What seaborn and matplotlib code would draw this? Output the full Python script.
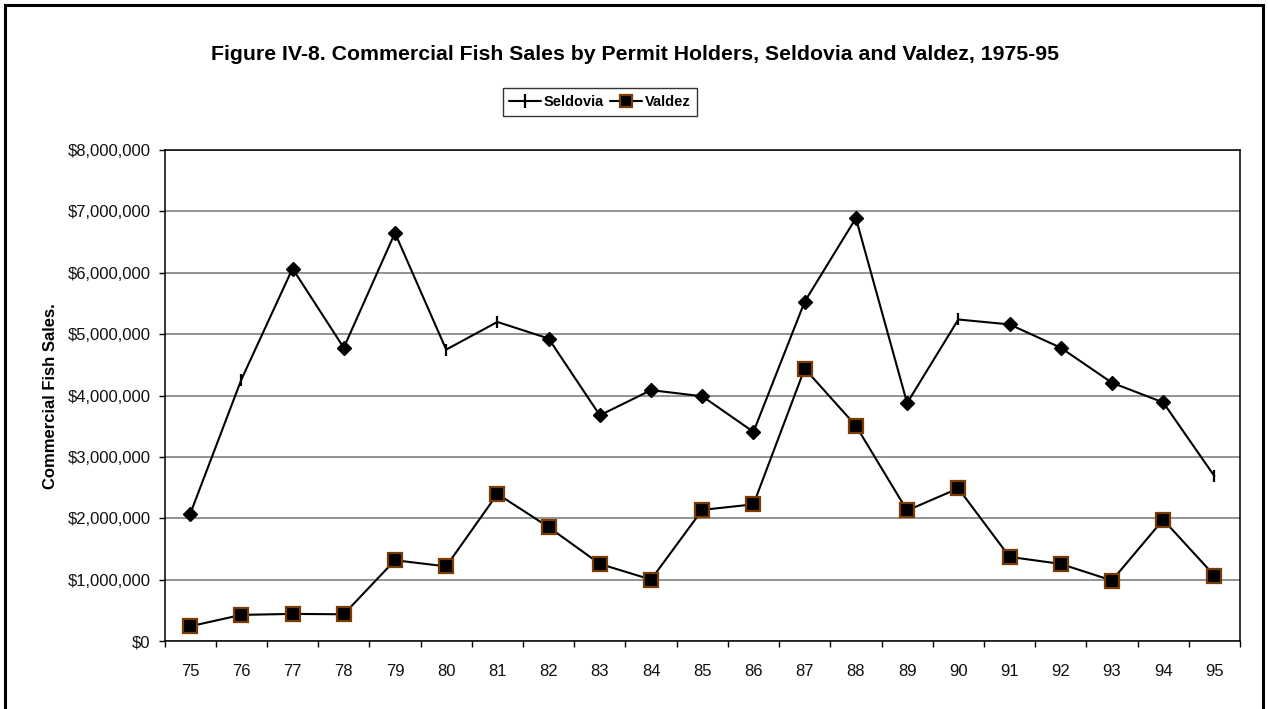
import numpy as np
import pandas as pd
import seaborn as sns
import matplotlib.pyplot as plt
from matplotlib.lines import Line2D
from matplotlib.patches import Rectangle
from matplotlib.ticker import FuncFormatter, MultipleLocator

years = ['75', '76', '77', '78', '79', '80', '81', '82', '83', '84', '85',
         '86', '87', '88', '89', '90', '91', '92', '93', '94', '95']
seldovia = [2.07, 4.26, 6.07, 4.78, 6.65, 4.75, 5.20, 4.93, 3.68, 4.09, 3.99,
            3.41, 5.53, 6.89, 3.88, 5.24, 5.16, 4.78, 4.21, 3.89, 2.69]
valdez = [0.245, 0.43, 0.446, 0.44, 1.32, 1.22, 2.40, 1.86, 1.26, 1.005, 2.14,
          2.23, 4.44, 3.51, 2.13, 2.49, 1.375, 1.26, 0.99, 1.98, 1.07]
# Seldovia points that Excel drew with a bar marker instead of a diamond
tick_years = ['76', '80', '81', '90', '95']

title = 'Figure IV-8. Commercial Fish Sales by Permit Holders, Seldovia and Valdez, 1975-95'
ylabel = 'Commercial Fish Sales.'

df = pd.DataFrame({'year': years,
                   'Seldovia': np.array(seldovia) * 1e6,
                   'Valdez': np.array(valdez) * 1e6})
df['pos'] = np.arange(len(df))
long = df.melt(['year', 'pos'], var_name='city', value_name='sales')

sns.set_style('white')
plt.rcParams['font.family'] = ['Liberation Sans', 'DejaVu Sans']
plt.rcParams['text.color'] = 'black'
plt.rcParams['axes.labelcolor'] = 'black'

fig = plt.figure(figsize=(12.68, 7.09), dpi=100)
ax = fig.add_axes([164.5 / 1268, 67.7 / 709, 1075.5 / 1268, 491.3 / 709])

sns.lineplot(data=long, x='pos', y='sales', hue='city',
             palette=['black', 'black'], linewidth=1.5, legend=False, ax=ax)

brown = '#7a3c00'
is_tick = df['year'].isin(tick_years)
ax.plot(df.loc[~is_tick, 'pos'], df.loc[~is_tick, 'Seldovia'], ls='none',
        marker='D', ms=7.5, color='black', zorder=4)
ax.plot(df.loc[is_tick, 'pos'], df.loc[is_tick, 'Seldovia'], ls='none',
        marker='|', ms=9, mew=1.6, color='black', zorder=4)
ax.plot(df['pos'], df['Valdez'], ls='none', marker='s', ms=9.5,
        mfc='black', mec=brown, mew=1.6, zorder=5)

ax.set_xlim(-0.5, len(years) - 0.5)
ax.set_ylim(0, 8e6)
ax.yaxis.set_major_locator(MultipleLocator(1e6))
ax.yaxis.set_major_formatter(FuncFormatter(lambda v, p: f'${v:,.0f}'))
ax.set_xticks(df['pos'])
ax.set_xticklabels(years)
ax.set_xticks(np.arange(-0.5, len(years)), minor=True)
ax.tick_params(axis='x', which='major', length=0, pad=16, labelsize=12)
ax.tick_params(axis='x', which='minor', length=4, width=1, color='black',
               direction='out', bottom=True)
ax.tick_params(axis='y', length=4, width=1, color='black', direction='out',
               left=True, pad=6, labelsize=12)
for lab in ax.get_xticklabels() + ax.get_yticklabels():
    lab.set_color('#111111')

ax.yaxis.grid(True, color='#808080', linewidth=1.2)
ax.set_axisbelow(True)
for sp in ax.spines.values():
    sp.set_visible(True)
    sp.set_color('black')
    sp.set_linewidth(1.1)

ax.set_xlabel('')
ax.set_ylabel(ylabel, fontsize=12, fontweight='bold', labelpad=7)

fig.text(635 / 1268, 1 - 55 / 709, title, ha='center', va='center',
         fontsize=15.3, fontweight='bold')

handles = [Line2D([], [], color='black', lw=1.5, marker='|', ms=10, mew=1.6),
           Line2D([], [], color='black', lw=1.5, marker='s', ms=8,
                  mfc='black', mec=brown, mew=1.6)]
leg = fig.legend(handles, ['Seldovia', 'Valdez'], loc='center',
                 bbox_to_anchor=(600 / 1268, 1 - 102 / 709), ncol=2,
                 frameon=True, fancybox=False, edgecolor='black',
                 prop={'weight': 'bold', 'size': 10.5}, handlelength=2.2,
                 handletextpad=0.2, columnspacing=0.4, borderpad=0.45,
                 borderaxespad=0)
leg.get_frame().set_linewidth(1.0)

fig.patches.append(Rectangle((5 / 1268, -0.05), 1258 / 1268, 1.05 - 5 / 709,
                             transform=fig.transFigure, fill=False,
                             edgecolor='black', linewidth=2.2))

fig.savefig('out.png', dpi=100)
